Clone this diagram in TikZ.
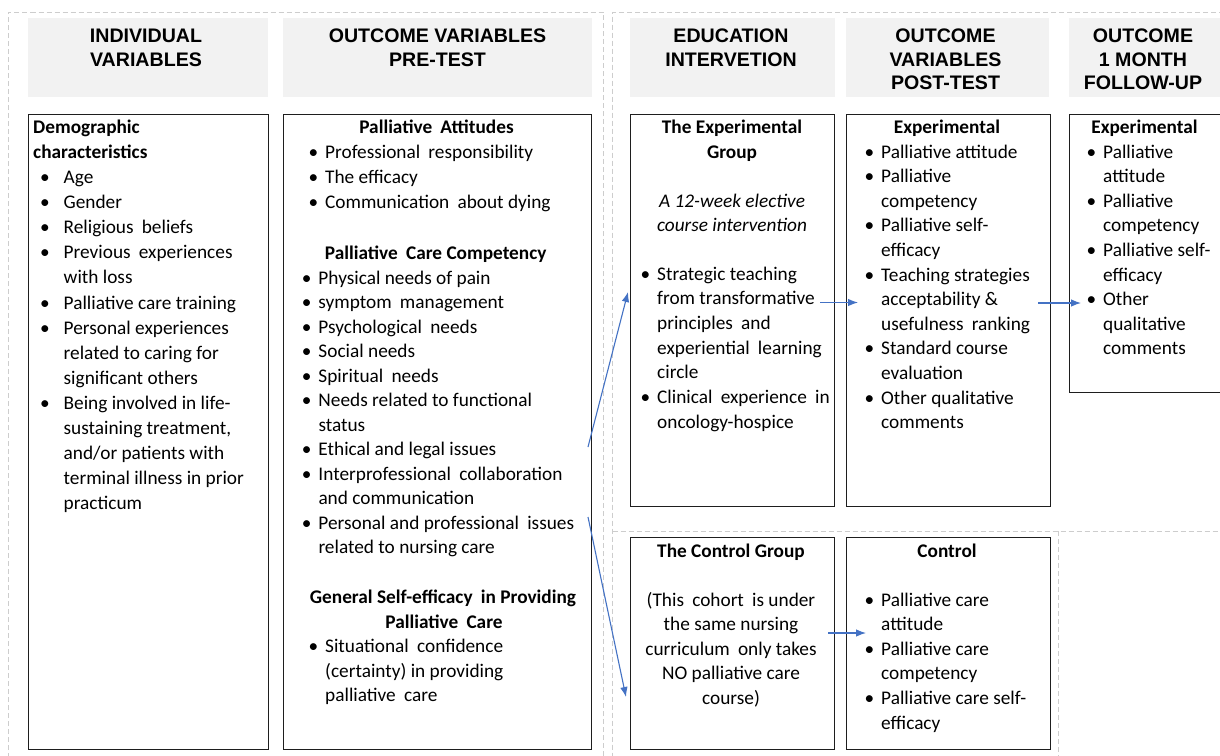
\documentclass[tikz,border=0pt]{standalone}
\usepackage{fontspec}
\setmainfont{Carlito}
\newfontfamily\hdfont{Liberation Sans}
\usetikzlibrary{arrows.meta}

\definecolor{arrowblue}{HTML}{4472C4}
\definecolor{hdgrey}{HTML}{F2F2F2}
\definecolor{dashgrey}{HTML}{CDCDCD}
\definecolor{boxline}{HTML}{1E1E1E}

% bullet hung to the left of the text start
\newcommand\bl[2][7pt]{\llap{\textbullet\hspace{#1}}#2}
% a slightly wider word gap
\newcommand\ds{\hspace{0.2em}}

% left-aligned lines: prefix, x, first baseline, step, list
\newcommand\leftlines[5]{%
  \foreach [count=\k from 0] \txtline in {#5}
    \node[txt] (#1-\k) at (#2, #3+#4*\k) {\txtline};}
% centred lines: prefix, x, first baseline, step, list
\newcommand\midlines[5]{%
  \foreach [count=\k from 0] \txtline in {#5}
    \node[ctxt] (#1-\k) at (#2, #3+#4*\k) {\txtline};}

\begin{document}
\begin{tikzpicture}[x=1pt,y=-1pt,
  hd/.style={fill=hdgrey, draw=none, inner sep=0pt, outer sep=0pt, anchor=north west},
  box/.style={draw=boxline, line width=1.3pt, fill=white, inner sep=0pt, anchor=north west},
  hdtxt/.style={font=\hdfont\bfseries\fontsize{19.6}{24}\selectfont, inner sep=0pt, anchor=base},
  txt/.style={font=\fontsize{19.3}{24.6}\selectfont, inner sep=0pt, anchor=base west},
  ctxt/.style={font=\fontsize{19.3}{24.6}\selectfont, inner sep=0pt, anchor=base},
  btxt/.style={txt, font=\fontsize{19.3}{24.6}\selectfont\bfseries},
  bctxt/.style={ctxt, font=\fontsize{19.3}{24.6}\selectfont\bfseries},
  ictxt/.style={ctxt, font=\fontsize{19.3}{24.6}\selectfont\itshape},
  guide/.style={draw=dashgrey, line width=0.8pt, dash pattern=on 5pt off 3pt},
  flow/.style={draw=arrowblue, line width=1.1pt, -{Latex[length=10pt,width=7.5pt]}}
]
\useasboundingbox (0,0) rectangle (1220,755);
\fill[white] (0,0) rectangle (1220,755);

% dashed grouping frames
\draw[guide] (8.5,790) -- (8.5,12) -- (603.5,12) -- (603.5,790);
\draw[guide] (1240,12) -- (612.5,12) -- (612.5,790);
\draw[guide] (612.5,531) -- (1240,531);
\draw[guide] (1058,531) -- (1058,790);

% column headers
\node[hd, minimum width=240, minimum height=79] (hindiv) at (28,18) {};
\node[hd, minimum width=309, minimum height=79] (hpre) at (283,18) {};
\node[hd, minimum width=205, minimum height=79] (hedu) at (630,18) {};
\node[hd, minimum width=203, minimum height=79] (hpost) at (846,18) {};
\node[hd, minimum width=170, minimum height=79] (hfu) at (1069,18) {};

\node[hdtxt] (hindiv-1) at (146,42) {INDIVIDUAL};
\node[hdtxt] (hindiv-2) at (146,66) {VARIABLES};
\node[hdtxt] (hpre-1) at (437.5,42) {OUTCOME VARIABLES};
\node[hdtxt] (hpre-2) at (437.5,66) {PRE-TEST};
\node[hdtxt] (hedu-1) at (731,42) {EDUCATION};
\node[hdtxt] (hedu-2) at (731,66) {INTERVETION};
\node[hdtxt] (hpost-1) at (945.5,42) {OUTCOME};
\node[hdtxt] (hpost-2) at (945.5,66) {VARIABLES};
\node[hdtxt] (hpost-3) at (945.5,89) {POST-TEST};
\node[hdtxt] (hfu-1) at (1143,42) {OUTCOME};
\node[hdtxt] (hfu-2) at (1143,66) {1 MONTH};
\node[hdtxt] (hfu-3) at (1143,89) {FOLLOW-UP};

% content boxes
\node[box, minimum width=240, minimum height=635] (demo) at (28,114) {};
\node[box, minimum width=308, minimum height=635] (pre) at (283,114) {};
\node[box, minimum width=204, minimum height=392] (expg) at (630,114) {};
\node[box, minimum width=204, minimum height=392] (expost) at (846,114) {};
\node[box, minimum width=170, minimum height=278] (expfu) at (1069,114) {};
\node[box, minimum width=204, minimum height=212] (ctlg) at (630,537) {};
\node[box, minimum width=204, minimum height=212] (ctlpost) at (846,537) {};

% individual variables
\node[btxt] (demo-t1) at (33,133.3) {Demographic};
\node[btxt] (demo-t2) at (33,158.4) {characteristics};
\leftlines{demo}{63.5}{183.5}{25.1}{
  \bl[14pt]{Age},
  \bl[14pt]{Gender},
  \bl[14pt]{Religious\ds\ beliefs},
  \bl[14pt]{Previous\ds\ experiences},
  with loss,
  \bl[14pt]{Palliative care training},
  \bl[14pt]{Personal experiences},
  related to caring for,
  significant others,
  \bl[14pt]{Being involved in life-},
  {sustaining treatment,},
  and/or patients with,
  terminal illness in prior,
  practicum}

% pre-test outcome variables
\node[bctxt] (pre-h1) at (436.5,133) {Palliative\ds\ Attitudes};
\leftlines{prea}{325}{158.5}{25.2}{
  \bl{Professional\ds\ responsibility},
  \bl{The efficacy},
  \bl{Communication\ds\ about dying}}
\node[bctxt] (pre-h2) at (435.7,259.5) {Palliative\ds\ Care Competency};
\leftlines{preb}{318.3}{284}{24.5}{
  \bl{Physical needs of pain},
  \bl{symptom\ds\ management},
  \bl{Psychological\ds\ needs},
  \bl{Social needs},
  \bl{Spiritual\ds\ needs},
  \bl{Needs related to functional},
  status,
  \bl{Ethical and legal issues},
  \bl{Interprofessional\ds\ collaboration},
  and communication,
  \bl{Personal and professional\ds\ issues},
  related to nursing care}
\node[bctxt] (pre-h3) at (443,603.5) {General Self-efficacy\ds\ in Providing};
\node[bctxt] (pre-h4) at (444,628) {Palliative\ds\ Care};
\leftlines{prec}{325}{652.7}{24.6}{
  \bl{Situational\ds\ confidence},
  (certainty) in providing,
  palliative\ds\ care}

% experimental group
\node[bctxt] (expg-h1) at (732,133) {The Experimental};
\node[bctxt] (expg-h2) at (732,158.5) {Group};
\node[ictxt] (expg-i1) at (732,207) {A 12-week elective};
\node[ictxt] (expg-i2) at (732,231.5) {course intervention};
\leftlines{expg}{657}{280}{24.7}{
  \bl{Strategic teaching},
  from transformative,
  principles\ds\ and,
  experiential\ds\ learning,
  circle,
  \bl{Clinical\ds\ experience\ds\ in},
  oncology-hospice}

% experimental post-test
\node[bctxt] (expost-h) at (947,133) {Experimental};
\leftlines{expost}{881}{158}{24.6}{
  \bl{Palliative attitude},
  \bl{Palliative},
  competency,
  \bl{Palliative self-},
  efficacy,
  \bl{Teaching strategies},
  acceptability \&,
  usefulness\ds\ ranking,
  \bl{Standard course},
  evaluation,
  \bl{Other qualitative},
  comments}

% experimental follow-up
\node[bctxt] (expfu-h) at (1144.5,133) {Experimental};
\leftlines{expfu}{1103}{158}{24.6}{
  \bl{Palliative},
  attitude,
  \bl{Palliative},
  competency,
  \bl{Palliative self-},
  efficacy,
  \bl{Other},
  qualitative,
  comments}

% control group
\node[bctxt] (ctlg-h) at (731,557) {The Control Group};
\midlines{ctlg}{731}{606}{24.6}{
  {(This\ds\ cohort\ds\ is under},
  the same nursing,
  curriculum\ds\ only takes,
  NO palliative care,
  {course)}}

% control post-test
\node[bctxt] (ctlpost-h) at (947,557) {Control};
\leftlines{ctlpost}{881}{606}{24.6}{
  \bl{Palliative care},
  attitude,
  \bl{Palliative care},
  competency,
  \bl{Palliative care self-},
  efficacy}

% flow arrows
\coordinate (preOutA) at (588,447);
\coordinate (expgIn) at (628,292);
\coordinate (preOutB) at (588,517);
\coordinate (ctlgIn) at (626,697);
\coordinate (expgOut) at (820,302.5);
\coordinate (expostIn) at (858,302.5);
\coordinate (expostOut) at (1038,303);
\coordinate (expfuIn) at (1081,303);
\coordinate (ctlgOut) at (828,633);
\coordinate (ctlpostIn) at (866,633);
\draw[flow] (preOutA) -- (expgIn);
\draw[flow] (preOutB) -- (ctlgIn);
\draw[flow] (expgOut) -- (expostIn);
\draw[flow] (expostOut) -- (expfuIn);
\draw[flow] (ctlgOut) -- (ctlpostIn);
\end{tikzpicture}
\end{document}
